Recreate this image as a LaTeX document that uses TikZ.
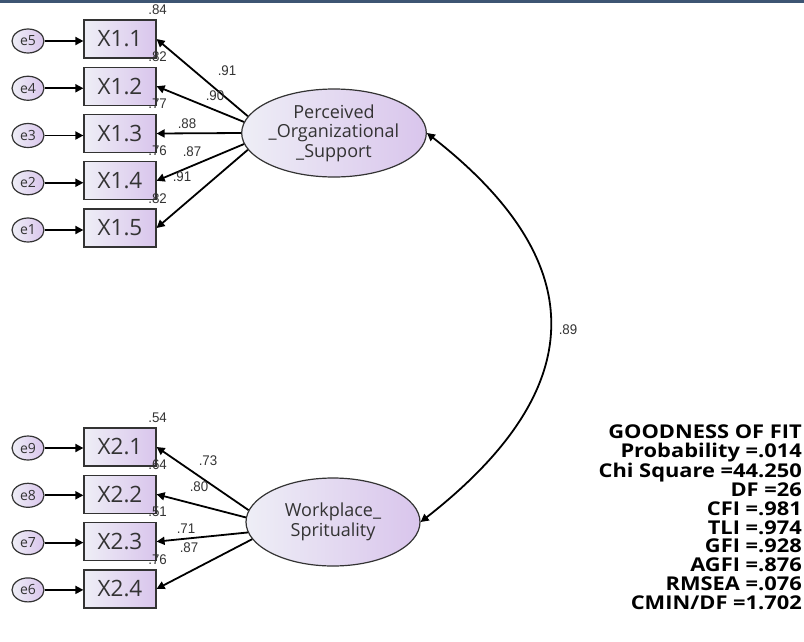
\documentclass[tikz,border=0pt]{standalone}
\usepackage{fontspec}
\setmainfont{Open Sans}
\newfontfamily\numfont[FakeStretch=0.95]{Liberation Sans}
\newfontfamily\fitfont[FakeStretch=1.15]{Open Sans}
\usetikzlibrary{arrows.meta,shapes.geometric,calc}
\definecolor{lavlight}{HTML}{EEEEF6}
\definecolor{lavdark}{HTML}{D9C5EC}
\definecolor{edge}{HTML}{333333}
\definecolor{topbar}{HTML}{3D5573}

\begin{document}
\begin{tikzpicture}[x=1pt,y=-1pt,
    obs/.style={draw=edge,line width=1.2pt,left color=lavlight,right color=lavdark,
      minimum width=72pt,minimum height=38pt,inner sep=0pt,text=edge,
      font=\fontsize{22.5}{22.5}\selectfont},
    err/.style={ellipse,draw=edge,line width=1.2pt,left color=lavlight,right color=lavdark,
      minimum width=32pt,minimum height=24pt,inner sep=0pt,text=edge,
      font=\fontsize{14}{14}\selectfont},
    lat/.style={ellipse,draw=edge,line width=1.2pt,left color=lavlight,right color=lavdark,
      inner sep=0pt,align=center,text=edge,font=\fontsize{18}{19.5}\selectfont},
    arr/.style={-{Triangle[length=8pt,width=8pt]},line width=1.8pt},
    num/.style={inner sep=0pt,text=edge,font=\numfont\fontsize{14}{14}\selectfont}]
  \useasboundingbox (0,0) rectangle (804,641);
  \fill[topbar] (0,0) rectangle (804,3);

  % latent variables
  \node[lat,minimum width=176pt,minimum height=88pt] (pos) at (334,133)
    {Perceived\\\_Organizational\\\_Support};
  \node[lat,minimum width=174pt,minimum height=88pt] (ws) at (333,522)
    {Workplace\_\\Sprituality};

  % indicators of pos
  \foreach \i/\e [count=\k from 0] in {1/5,2/4,3/3,4/2,5/1} {
    \node[obs] (x1\i) at (120,{39+47.25*\k}) {X1.\i};
    \node[err] (e\e) at (28,{41+47.25*\k}) {e\e};
    \draw[arr] (e\e) -- (e\e -| x1\i.west);
  }
  \foreach \i/\a in {1/169,2/173,3/180,4/187,5/191}
    \draw[arr] (pos.\a) -- (x1\i.east);
  \foreach \i/\r in {1/.84,2/.82,3/.77,4/.76,5/.82}
    \node[num] (r1\i) at ($(x1\i.north east)+(1,-10)$) {\r};
  \foreach \i/\v/\x/\y in {1/.91/227/71,2/.90/215/96,3/.88/187/124,4/.87/192/152,5/.91/182/177}
    \node[num] (l1\i) at (\x,\y) {\v};

  % indicators of ws
  \foreach \i/\e [count=\k from 0] in {1/9,2/8,3/7,4/6} {
    \node[obs] (x2\i) at (120,{447+47.3*\k}) {X2.\i};
    \node[err] (e\e) at (28,{448+47.3*\k}) {e\e};
    \draw[arr] (e\e) -- (e\e -| x2\i.west);
  }
  \foreach \i/\a in {1/172,2/177,3/187,4/192}
    \draw[arr] (ws.\a) -- (x2\i.east);
  \foreach \i/\r in {1/.54,2/.64,3/.51,4/.76}
    \node[num] (r2\i) at ($(x2\i.north east)+(1,-10)$) {\r};
  \foreach \i/\v/\x/\y in {1/.73/208/461,2/.80/199/487,3/.71/186/529,4/.87/189/548}
    \node[num] (l2\i) at (\x,\y) {\v};

  % covariance
  \draw[{Triangle[length=8pt,width=8pt]}-{Triangle[length=8pt,width=8pt]},line width=1.8pt]
    (pos.east) to[out=-38,in=38,looseness=1.4] (ws.east);
  \node[num] (cov) at (568,330) {.89};

  % fit indices
  \node[anchor=north east,align=right,inner sep=0pt,text=black,
    font=\fitfont\bfseries\fontsize{19}{18.8}\selectfont] (gof) at (802,425)
    {GOODNESS OF FIT\\Probability =.014\\Chi Square =44.250\\DF =26\\CFI =.981\\
     TLI =.974\\GFI =.928\\AGFI =.876\\RMSEA =.076\\CMIN/DF =1.702};
\end{tikzpicture}
\end{document}
